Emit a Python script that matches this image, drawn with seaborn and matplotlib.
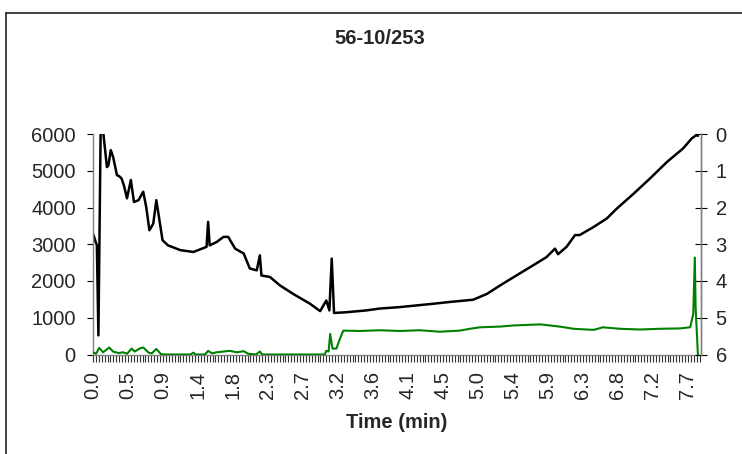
import matplotlib
matplotlib.use("Agg")
import matplotlib.pyplot as plt
from matplotlib.lines import Line2D
from matplotlib.ticker import MultipleLocator, FixedLocator
import seaborn as sns
import pandas as pd

# ---------------- data ----------------
TITLE = "56-10/253"
X_LABEL = "Time (min)"
X_TICK_LABELS = ["0.0", "0.5", "0.9", "1.4", "1.8", "2.3", "2.7", "3.2", "3.6",
                 "4.1", "4.5", "5.0", "5.4", "5.9", "6.3", "6.8", "7.2", "7.7"]
LEFT_TICKS = [0, 1000, 2000, 3000, 4000, 5000, 6000]
RIGHT_TICKS = [0, 1, 2, 3, 4, 5, 6]

# black trace (left axis)
black_time = [0.00, 0.05, 0.07, 0.10, 0.13, 0.18, 0.20, 0.23, 0.26, 0.31, 0.34,
              0.37, 0.40, 0.44, 0.49, 0.53, 0.59, 0.65, 0.69, 0.73, 0.78, 0.82,
              0.90, 0.97, 1.13, 1.30, 1.41, 1.47, 1.49, 1.51, 1.60, 1.69, 1.75,
              1.84, 1.95, 2.03, 2.12, 2.16, 2.18, 2.29, 2.42, 2.59, 2.81, 2.94,
              3.02, 3.06, 3.09, 3.12, 3.28, 3.54, 3.71, 3.97, 4.40, 4.62, 4.92,
              5.10, 5.27, 5.48, 5.70, 5.87, 5.98, 6.02, 6.13, 6.24, 6.30, 6.48,
              6.65, 6.78, 7.00, 7.21, 7.43, 7.64, 7.75, 7.81, 7.83]
black_value = [3290, 2970, 520, 6300, 6100, 5100, 5150, 5560, 5380, 4880, 4850,
               4790, 4600, 4250, 4750, 4150, 4200, 4430, 4000, 3380, 3560, 4200,
               3110, 2970, 2840, 2790, 2880, 2930, 3610, 2970, 3060, 3200, 3200,
               2880, 2750, 2340, 2290, 2700, 2150, 2110, 1880, 1650, 1380, 1180,
               1470, 1200, 2610, 1130, 1150, 1200, 1250, 1290, 1380, 1430, 1490,
               1650, 1880, 2150, 2430, 2650, 2880, 2730, 2930, 3250, 3250, 3470,
               3700, 3970, 4380, 4790, 5240, 5610, 5880, 5970, 5950]

# green trace (right, inverted axis)
green_time = [0.00, 0.04, 0.08, 0.13, 0.21, 0.26, 0.33, 0.39, 0.44, 0.50, 0.54,
              0.61, 0.65, 0.72, 0.76, 0.82, 0.88, 0.93, 1.26, 1.30, 1.33, 1.45,
              1.49, 1.54, 1.60, 1.69, 1.77, 1.86, 1.95, 2.01, 2.11, 2.16, 2.19,
              3.00, 3.02, 3.05, 3.07, 3.10, 3.15, 3.20, 3.24, 3.46, 3.71, 3.97,
              4.23, 4.49, 4.75, 4.88, 5.01, 5.27, 5.44, 5.79, 6.04, 6.22, 6.48,
              6.60, 6.82, 7.08, 7.34, 7.60, 7.73, 7.77, 7.79, 7.80, 7.83]
green_value = [5.94, 5.98, 5.82, 5.94, 5.81, 5.92, 5.96, 5.94, 5.98, 5.84, 5.92,
               5.83, 5.81, 5.95, 5.97, 5.85, 5.99, 6.00, 6.00, 5.95, 6.00, 6.00,
               5.90, 5.97, 5.94, 5.92, 5.90, 5.94, 5.91, 5.98, 6.00, 5.92, 6.00,
               6.00, 5.90, 5.92, 5.44, 5.84, 5.84, 5.55, 5.35, 5.36, 5.34, 5.36,
               5.34, 5.38, 5.35, 5.30, 5.26, 5.24, 5.21, 5.18, 5.24, 5.30, 5.33,
               5.26, 5.30, 5.32, 5.30, 5.29, 5.26, 4.89, 3.36, 4.71, 6.00]

# ---------------- layout constants ----------------
W, H = 742, 454
LABEL_STEP = 0.453          # minutes between labelled categories
MINOR_STEP = LABEL_STEP / 12
X_MAX = 7.87
FS = 14.5
GRAY = "#808080"

sns.set_style("white")
plt.rcParams["font.family"] = ["Liberation Sans", "DejaVu Sans"]

fig = plt.figure(figsize=(W / 100, H / 100), dpi=100)
ax = fig.add_axes([93 / W, 1 - 354.5 / H, (701 - 93) / W, (354.5 - 134) / H])

df_black = pd.DataFrame({"t": black_time, "v": black_value})
df_green = pd.DataFrame({"t": green_time, "v": green_value})

sns.lineplot(data=df_black, x="t", y="v", ax=ax, color="black", lw=1.8,
             estimator=None, sort=False)
ax.set_xlim(0, X_MAX)
ax.set_ylim(0, 6000)
ax.set_yticks(LEFT_TICKS)
ax.set_yticklabels([str(v) for v in LEFT_TICKS], fontsize=FS)
ax.tick_params(axis="y", which="both", left=True, direction="out", length=4.5,
               width=0.8, color="black", pad=8)

major_pos = [i * LABEL_STEP for i in range(len(X_TICK_LABELS))]
ax.xaxis.set_major_locator(FixedLocator(major_pos))
ax.set_xticklabels(X_TICK_LABELS, rotation=90, fontsize=FS)
ax.xaxis.set_minor_locator(MultipleLocator(MINOR_STEP))
ax.tick_params(axis="x", which="both", bottom=True, direction="out", length=5,
               width=0.8, color="#333333", pad=7)
ax.set_xlabel(X_LABEL, fontsize=FS, fontweight="bold", labelpad=10)
ax.set_ylabel("")

for s in ["left", "bottom", "right"]:
    ax.spines[s].set_color(GRAY)
    ax.spines[s].set_linewidth(1.0)
ax.spines["top"].set_visible(False)

ax2 = ax.twinx()
sns.lineplot(data=df_green, x="t", y="v", ax=ax2, color="#008000", lw=1.5,
             estimator=None, sort=False)
ax2.set_ylim(6, 0)
ax2.set_yticks(RIGHT_TICKS)
ax2.set_yticklabels([str(v) for v in RIGHT_TICKS], fontsize=FS)
ax2.tick_params(axis="y", right=True, direction="inout", length=9, width=0.8,
                color="black", pad=6)
ax2.set_ylabel("")
ax2.set_xlim(0, X_MAX)
for s in ["left", "top", "bottom"]:
    ax2.spines[s].set_visible(False)
ax2.spines["right"].set_color(GRAY)
ax2.spines["right"].set_linewidth(1.0)

fig.text(380 / W, 1 - 39 / H, TITLE, ha="center", va="center",
         fontsize=FS, fontweight="bold")

# chart-area border (top and left edges visible)
top_y = 1 - 13 / H
left_x = 6 / W
fig.add_artist(Line2D([left_x, 1.0], [top_y, top_y], color="#222222", lw=1.2,
                      transform=fig.transFigure))
fig.add_artist(Line2D([left_x, left_x], [0.0, top_y], color="#222222", lw=1.2,
                      transform=fig.transFigure))

fig.savefig("out.png", dpi=100)
